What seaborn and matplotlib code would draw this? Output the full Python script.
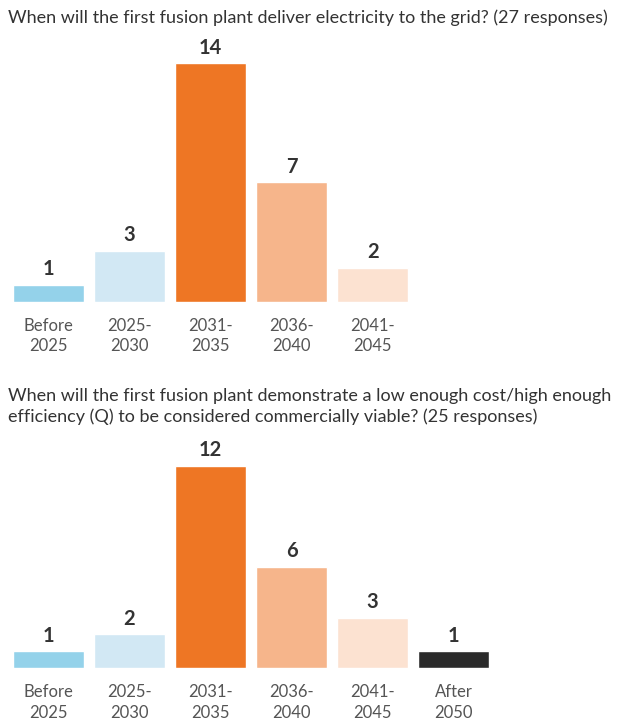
import pandas as pd
import matplotlib.pyplot as plt
import seaborn as sns

sns.set_theme(style="white")
plt.rcParams['font.family'] = ['Lato', 'DejaVu Sans']

# Data
periods = ['Before\n2025', '2025-\n2030', '2031-\n2035', '2036-\n2040', '2041-\n2045', 'After\n2050']
grid_counts = [1, 3, 14, 7, 2]
viable_counts = [1, 2, 12, 6, 3, 1]

colors = ['#94d2ea', '#d2e8f4', '#ee7624', '#f6b58b', '#fce2d1', '#2b2b2b']
palette = dict(zip(periods, colors))

title_top = 'When will the first fusion plant deliver electricity to the grid? (27 responses)'
title_bottom = ('When will the first fusion plant demonstrate a low enough cost/high enough\n'
                'efficiency (Q) to be considered commercially viable? (25 responses)')

text_color = '#333333'
tick_color = '#555555'


def draw_panel(ax, counts, ymax):
    df = pd.DataFrame({'period': periods[:len(counts)], 'count': counts})
    sns.barplot(data=df, x='period', y='count', hue='period', palette=palette,
                order=df['period'], legend=False, width=0.88, saturation=1, ax=ax)
    for c in ax.containers:
        ax.bar_label(c, padding=4, fontsize=14.5, fontweight='bold', color=text_color)
    ax.set_xlim(-0.5, 5.5)
    ax.set_ylim(0, ymax)
    ax.set_xlabel('')
    ax.set_ylabel('')
    ax.set_yticks([])
    ax.tick_params(axis='x', length=0, pad=11.5, labelsize=12, labelcolor=tick_color)
    for lbl in ax.get_xticklabels():
        lbl.set_linespacing(1.35)
    sns.despine(ax=ax, left=True, bottom=True)


fig = plt.figure(figsize=(6.33, 7.24), dpi=100)

ax1 = fig.add_axes([0.0126, 0.583, 0.768, 0.377])
draw_panel(ax1, grid_counts, 16)

ax2 = fig.add_axes([0.0126, 0.0773, 0.768, 0.3255])
draw_panel(ax2, viable_counts, 14)

fig.text(0.013, 0.976, title_top, fontsize=13, color=text_color, va='center', ha='left')
fig.text(0.013, 0.4385, title_bottom, fontsize=13, color=text_color, va='center', ha='left',
         linespacing=1.35)

fig.savefig('out.png', dpi=100)
